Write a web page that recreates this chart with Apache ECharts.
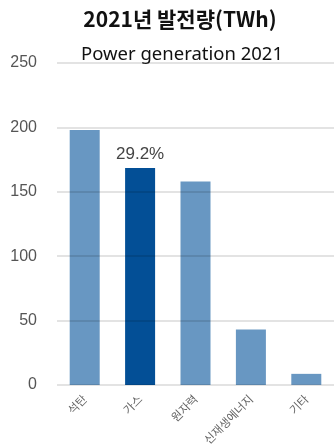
<!DOCTYPE html>
<html>
<head>
<meta charset="utf-8">
<script src="https://cdn.jsdelivr.net/npm/echarts@6/dist/echarts.min.js"></script>
<style>
  html, body { margin: 0; padding: 0; background: #fff; }
  #chart { width: 334px; height: 448px; }
</style>
</head>
<body>
<div id="chart"></div>
<script>
// Korean electricity generation by source, 2021 (TWh)
const categories = ['석탄', '가스', '원자력', '신재생에너지', '기타'];
const values = [197.9, 168.4, 158.0, 43.1, 8.6];
const highlightIndex = 1;
const highlightLabel = '29.2%';
const yTicks = [0, 50, 100, 150, 200, 250];

const baseColor = '#6897c2';
const accentColor = '#034f96';

const chart = echarts.init(document.getElementById('chart'), null, { renderer: 'canvas' });

chart.setOption({
  animation: false,
  title: [
    {
      text: '2021년 발전량(TWh)',
      left: 175,
      top: 4,
      textAlign: 'center',
      textStyle: { fontFamily: 'Noto Sans CJK KR', fontSize: 21, fontWeight: 'bold', color: '#111' }
    },
    {
      text: 'Power generation 2021',
      left: 177,
      top: 40,
      textAlign: 'center',
      textStyle: { fontFamily: 'Noto Sans', fontSize: 18.5, fontWeight: 'normal', color: '#111' }
    }
  ],
  grid: { left: 57, right: 0, top: 63, bottom: 62, containLabel: false },
  xAxis: {
    type: 'category',
    data: categories,
    axisLine: { show: false },
    axisTick: { show: false },
    axisLabel: {
      rotate: 45,
      margin: 12,
      fontFamily: 'Noto Sans CJK KR',
      fontSize: 11.5,
      color: '#666'
    }
  },
  yAxis: {
    type: 'value',
    min: yTicks[0],
    max: yTicks[yTicks.length - 1],
    interval: 50,
    z: 5,
    axisLine: { show: false },
    axisTick: { show: false },
    axisLabel: {
      margin: 20,
      fontFamily: 'Liberation Sans',
      fontSize: 16,
      color: '#555'
    },
    splitLine: { lineStyle: { color: 'rgba(0,0,0,0.11)', width: 2 } }
  },
  series: [{
    type: 'bar',
    barWidth: 30,
    data: values.map((v, i) => ({
      value: v,
      itemStyle: { color: i === highlightIndex ? accentColor : baseColor },
      label: i === highlightIndex ? {
        show: true,
        position: 'top',
        distance: 5,
        formatter: highlightLabel,
        fontFamily: 'Liberation Sans',
        fontSize: 17,
        color: '#444'
      } : { show: false }
    }))
  }]
});
</script>
</body>
</html>
